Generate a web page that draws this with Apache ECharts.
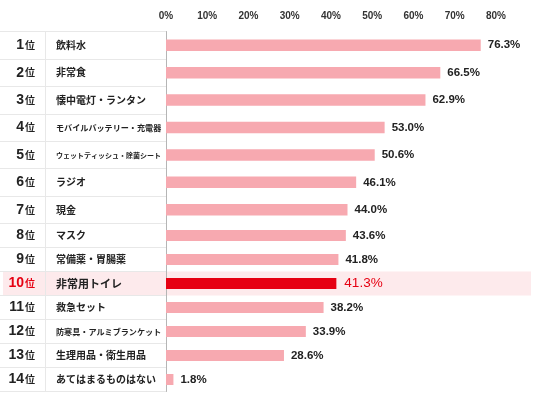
<!DOCTYPE html>
<html>
<head>
<meta charset="utf-8">
<script src="https://cdn.jsdelivr.net/npm/echarts@6/dist/echarts.min.js"></script>
<style>
html,body{margin:0;padding:0;background:#fff;}
#c{width:536px;height:404px;}
</style>
</head>
<body>
<div id="c"></div>
<script>
const ranks = ['1', '2', '3', '4', '5', '6', '7', '8', '9', '10', '11', '12', '13', '14'];
const categories = ['飲料水', '非常食', '懐中電灯・ランタン', 'モバイルバッテリー・充電器', 'ウェットティッシュ・除菌シート', 'ラジオ', '現金', 'マスク', '常備薬・胃腸薬', '非常用トイレ', '救急セット', '防寒具・アルミブランケット', '生理用品・衛生用品', 'あてはまるものはない'];
const values = [76.3, 66.5, 62.9, 53.0, 50.6, 46.1, 44.0, 43.6, 41.8, 41.3, 38.2, 33.9, 28.6, 1.8];
const highlight = '非常用トイレ';
const axisMax = 80;
const axisStep = 10;

const PINK = '#f7a9b0';
const RED = '#e60012';
const DARK = '#222';
const LATIN = '"Liberation Sans", Arial, sans-serif';
const CJK = '"Noto Sans CJK JP", sans-serif';

const halves = [[0, 7], [7, 14]];
const grids = [
  {left: 166, right: 40, top: 31.5, height: 192},
  {left: 166, right: 40, top: 223.5, height: 168}
];

const rankRich = {
  n: {fontFamily: LATIN, fontWeight: 'bold', fontSize: 14, color: DARK},
  nr: {fontFamily: LATIN, fontWeight: 'bold', fontSize: 14, color: RED},
  u: {fontFamily: CJK, fontWeight: 'bold', fontSize: 10, color: DARK, padding: [0, 0, 0, 1]},
  ur: {fontFamily: CJK, fontWeight: 'bold', fontSize: 10, color: RED, padding: [0, 0, 0, 1]}
};
const nameRich = {};
categories.forEach((c, i) => {
  const size = c === highlight ? 11 : (c.length > 10 ? Math.floor(1060 / c.length) / 10 : 10);
  nameRich['c' + i] = {fontFamily: CJK, fontWeight: 'bold', fontSize: size, color: DARK};
});

function rankFmt(value) {
  const i = categories.indexOf(value);
  const hl = value === highlight;
  return '{' + (hl ? 'nr' : 'n') + '|' + ranks[i] + '}{' + (hl ? 'ur' : 'u') + '|位}';
}
function nameFmt(value) {
  return '{c' + categories.indexOf(value) + '|' + value + '}';
}

const xAxes = grids.map((g, gi) => ({
  type: 'value', gridIndex: gi, min: 0, max: axisMax, interval: axisStep,
  position: 'top',
  show: gi === 0,
  axisLine: {show: false}, axisTick: {show: false}, splitLine: {show: false},
  axisLabel: {formatter: '{value}%', fontFamily: LATIN, fontWeight: 'bold', fontSize: 10, color: '#333', margin: 10}
}));

const mainY = halves.map((h, gi) => ({
  type: 'category', gridIndex: gi, inverse: true, position: 'left',
  data: categories.slice(h[0], h[1]),
  axisLine: {show: true, lineStyle: {color: '#b5b5b5', width: 1}},
  axisTick: {show: true, length: 166, lineStyle: {color: '#e8e8e8', width: 1}},
  axisLabel: {margin: 110, align: 'left', formatter: nameFmt, rich: nameRich}
}));
const rankY = halves.map((h, gi) => ({
  type: 'category', gridIndex: gi, inverse: true, position: 'left',
  data: categories.slice(h[0], h[1]),
  axisLine: {show: false}, axisTick: {show: false},
  axisLabel: {margin: 131, align: 'right', formatter: rankFmt, rich: rankRich}
}));

const series = halves.map((h, gi) => ({
  type: 'bar', xAxisIndex: gi, yAxisIndex: gi,
  barWidth: gi === 0 ? 11.5 : 11,
  itemStyle: {color: PINK},
  label: {
    show: true, position: 'right', distance: 7,
    fontFamily: LATIN, fontWeight: 'bold', fontSize: 11.5, color: DARK,
    formatter: p => p.value.toFixed(1) + '%'
  },
  data: values.slice(h[0], h[1]).map((v, k) => {
    const cat = categories[h[0] + k];
    if (cat === highlight) {
      return {value: v, itemStyle: {color: RED},
        label: {color: RED, fontSize: 13.5, fontWeight: 'normal', distance: 8}};
    }
    return v;
  })
}));

const chart = echarts.init(document.getElementById('c'), null, {renderer: 'canvas'});
chart.setOption({
  backgroundColor: '#fff',
  animation: false,
  grid: grids,
  xAxis: xAxes,
  yAxis: mainY.concat(rankY),
  series: series
});

const hIdx = categories.indexOf(highlight);
const gIdx = hIdx < 7 ? 0 : 1;
const yc = chart.convertToPixel({yAxisIndex: gIdx}, highlight);
const band = grids[gIdx].height / 7;
const yTop = grids[0].top;
const yBottom = grids[1].top + grids[1].height;
chart.setOption({
  graphic: [
    {type: 'rect', z: -1, silent: true, shape: {x: 3, y: yc - band / 2, width: 528, height: band}, style: {fill: '#fdeaec'}},
    {type: 'line', z: -1, silent: true, shape: {x1: 45.5, y1: yTop, x2: 45.5, y2: yBottom}, style: {stroke: '#e8e8e8', lineWidth: 1}}
  ]
});
</script>
</body>
</html>
